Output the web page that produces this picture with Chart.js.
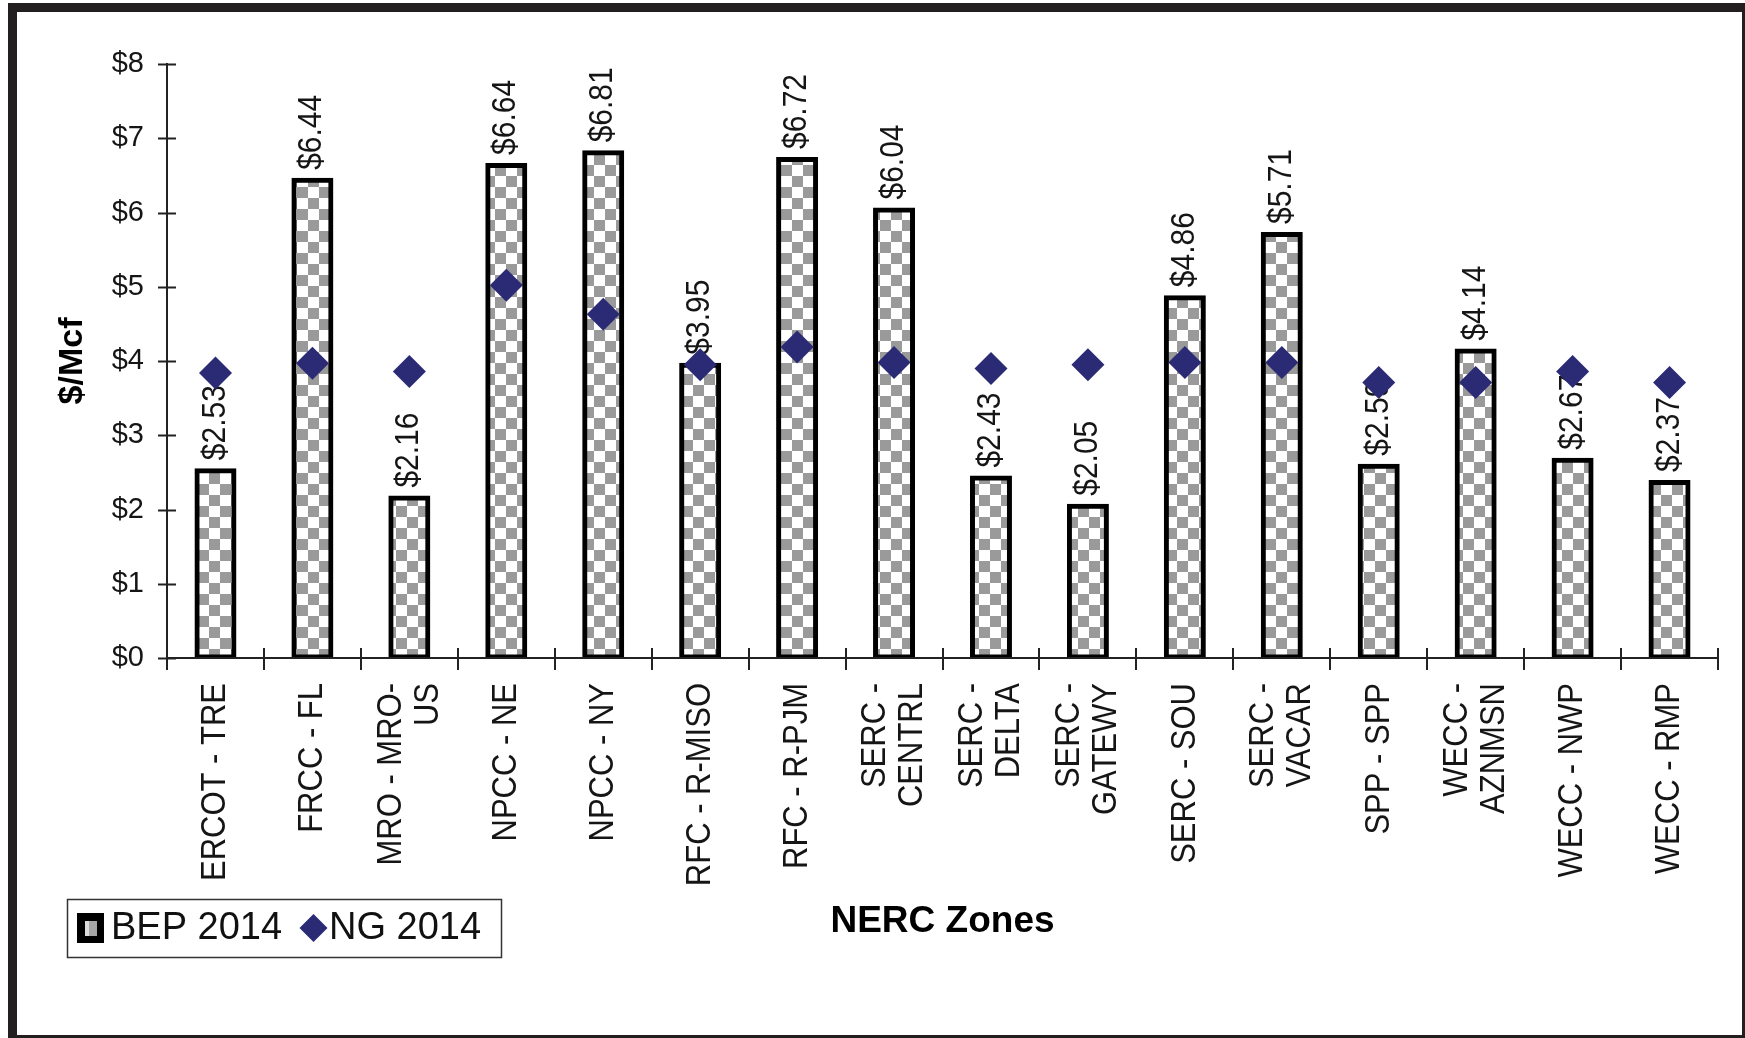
<!DOCTYPE html>
<html>
<head>
<meta charset="utf-8">
<title>BEP 2014 vs NG 2014 by NERC Zone</title>
<script src="https://cdn.jsdelivr.net/npm/chart.js@4.4.1/dist/chart.umd.min.js"></script>
<style>
  html, body { margin: 0; padding: 0; background: #fff; overflow: hidden; }
  #wrap { position: relative; width: 1745px; height: 1038px; }
  #chart { position: absolute; left: 0; top: 0; }
  #frame { position: absolute; left: 8px; top: 3px; width: 1743px; height: 1041px;
           box-sizing: border-box; border: 9px solid #231f20; pointer-events: none; }
</style>
</head>
<body>
<div id="wrap">
  <canvas id="chart" width="1745" height="1038"></canvas>
  <div id="frame"></div>
</div>
<script>
// NERC zones (multi-line where the label wraps)
const zones = [
  ['ERCOT - TRE'], ['FRCC - FL'], ['MRO - MRO-', 'US'], ['NPCC - NE'], ['NPCC - NY'],
  ['RFC - R-MISO'], ['RFC - R-PJM'], ['SERC -', 'CENTRL'], ['SERC -', 'DELTA'],
  ['SERC -', 'GATEWY'], ['SERC - SOU'], ['SERC -', 'VACAR'], ['SPP - SPP'],
  ['WECC -', 'AZNMSN'], ['WECC - NWP'], ['WECC - RMP']
];

// Break-even price, 2014 ($/Mcf)
const bep2014 = [2.53, 6.44, 2.16, 6.64, 6.81, 3.95, 6.72, 6.04, 2.43, 2.05, 4.86, 5.71, 2.59, 4.14, 2.67, 2.37];

// Natural gas price, 2014 ($/Mcf)
const ng2014 = [3.84, 3.97, 3.86, 5.02, 4.63, 3.95, 4.19, 3.98, 3.90, 3.95, 3.98, 3.98, 3.71, 3.71, 3.86, 3.71];

// Value axis tick labels
const yTickLabels = ['$0', '$1', '$2', '$3', '$4', '$5', '$6', '$7', '$8'];

const FONT = "'Liberation Sans', Arial, Helvetica, sans-serif";
const INK = '#151515';
const NAVY = '#2b2a74';

const canvas = document.getElementById('chart');
const ctx = canvas.getContext('2d');

// grey / white checkerboard fill for the bars
function makeChecker(c) {
  const cell = 11;
  const tile = document.createElement('canvas');
  tile.width = cell * 2; tile.height = cell * 2;
  const g = tile.getContext('2d');
  g.fillStyle = '#ffffff'; g.fillRect(0, 0, cell * 2, cell * 2);
  g.fillStyle = '#9a9a9a';
  g.fillRect(0, 0, cell, cell);
  g.fillRect(cell, cell, cell, cell);
  return c.createPattern(tile, 'repeat');
}
const checker = makeChecker(ctx);

// draws upright-reading (rotated) text, slightly widened across its glyph height
function drawVertical(c, txt, x, y, widen) {
  c.save();
  c.translate(x, y);
  c.scale(widen, 1);
  c.rotate(-Math.PI / 2);
  c.fillText(txt, 0, 0);
  c.restore();
}

// tick marks that cross both axis lines
const crossTicks = {
  id: 'crossTicks',
  beforeDatasetsDraw(chart) {
    const { ctx, scales: { x, y } } = chart;
    ctx.save();
    ctx.strokeStyle = '#222';
    ctx.lineWidth = 2;
    ctx.beginPath();
    y.ticks.forEach(t => {
      const py = Math.round(y.getPixelForValue(t.value)) + 0.5;
      ctx.moveTo(x.left - 9, py); ctx.lineTo(x.left + 9, py);
    });
    for (let i = 0; i <= zones.length; i++) {
      const px = Math.round(x.getPixelForValue(i - 0.5));
      ctx.moveTo(px, y.bottom - 10); ctx.lineTo(px, y.bottom + 12);
    }
    ctx.stroke();
    ctx.restore();
  }
};

// rotated value labels above each bar, drawn before the diamonds
const barValueLabels = {
  id: 'barValueLabels',
  afterDatasetDraw(chart, args) {
    if (chart.data.datasets[args.index].type !== 'bar') return;
    const { ctx, scales: { x, y } } = chart;
    const data = chart.data.datasets[args.index].data;
    ctx.save();
    ctx.fillStyle = INK;
    ctx.font = '30px ' + FONT;
    ctx.textAlign = 'left';
    ctx.textBaseline = 'middle';
    data.forEach((v, i) => {
      drawVertical(ctx, '$' + v.toFixed(2), x.getPixelForValue(i), y.getPixelForValue(v) - 10, 1.1);
    });
    ctx.restore();
  }
};

// vertical category labels under the axis
const zoneLabels = {
  id: 'zoneLabels',
  afterDraw(chart) {
    const { ctx, scales: { x, y } } = chart;
    const lineGap = 37;
    ctx.save();
    ctx.fillStyle = INK;
    ctx.font = '31px ' + FONT;
    ctx.textAlign = 'right';
    ctx.textBaseline = 'middle';
    zones.forEach((lines, i) => {
      const cx = x.getPixelForValue(i);
      lines.forEach((txt, j) => {
        drawVertical(ctx, txt, cx + (j - (lines.length - 1) / 2) * lineGap, y.bottom + 25, 1.15);
      });
    });
    ctx.restore();
  }
};

// boxed legend in the lower-left corner
const boxLegend = {
  id: 'boxLegend',
  afterDraw(chart) {
    const { ctx } = chart;
    const ds = chart.data.datasets;
    const bar = ds.find(d => d.type === 'bar');
    const pts = ds.find(d => d.type === 'line');
    const box = { x: 67, y: 899, w: 434, h: 58 };
    const midY = box.y + box.h / 2;
    ctx.save();
    ctx.fillStyle = '#fff';
    ctx.fillRect(box.x, box.y, box.w, box.h);
    ctx.strokeStyle = '#333';
    ctx.lineWidth = 1.5;
    ctx.strokeRect(box.x + 0.5, box.y + 0.5, box.w, box.h);

    // bar swatch
    ctx.fillStyle = '#000';
    ctx.fillRect(77, midY - 15, 27, 30);
    ctx.fillStyle = '#a6a6a6';
    ctx.fillRect(85, midY - 7, 12, 15);
    ctx.fillStyle = '#dcdcdc';
    ctx.fillRect(85, midY - 7, 4, 15);

    ctx.fillStyle = '#111';
    ctx.font = '38px ' + FONT;
    ctx.textAlign = 'left';
    ctx.textBaseline = 'middle';
    ctx.fillText(bar.label, 111, midY + 1);

    // diamond swatch
    const dx = 313.5, r = 14;
    ctx.fillStyle = NAVY;
    ctx.beginPath();
    ctx.moveTo(dx - r, midY); ctx.lineTo(dx, midY - r);
    ctx.lineTo(dx + r, midY); ctx.lineTo(dx, midY + r);
    ctx.closePath();
    ctx.fill();

    ctx.fillStyle = '#111';
    ctx.fillText(pts.label, 329, midY + 1);
    ctx.restore();
  }
};

new Chart(ctx, {
  type: 'bar',
  data: {
    labels: zones,
    datasets: [
      {
        type: 'bar',
        label: 'BEP 2014',
        data: bep2014,
        backgroundColor: checker,
        borderColor: '#000',
        borderWidth: 5,
        borderSkipped: false,
        inflateAmount: 2,
        barPercentage: 0.392,
        categoryPercentage: 1,
        order: 1
      },
      {
        type: 'line',
        label: 'NG 2014',
        data: ng2014,
        showLine: false,
        pointStyle: 'rectRot',
        pointRadius: 16.5,
        pointHoverRadius: 16.5,
        pointBackgroundColor: NAVY,
        pointBorderColor: NAVY,
        pointBorderWidth: 0,
        backgroundColor: NAVY,
        borderColor: NAVY,
        order: 0
      }
    ]
  },
  options: {
    responsive: false,
    animation: false,
    devicePixelRatio: 1,
    layout: { padding: { left: 17, right: 27, top: 64, bottom: 0 } },
    plugins: {
      legend: { display: false },
      tooltip: { enabled: false }
    },
    scales: {
      x: {
        type: 'category',
        offset: true,
        grid: { offset: true, drawOnChartArea: false, drawTicks: true, tickLength: 12, color: 'rgba(0,0,0,0)' },
        border: { display: true, color: '#222', width: 2, z: 1 },
        ticks: { display: false },
        title: {
          display: true,
          text: 'NERC Zones',
          color: '#000',
          font: { family: FONT, size: 37, weight: 'bold' },
          padding: { top: 0, bottom: 94 }
        },
        afterFit(scale) { scale.height = 380; }
      },
      y: {
        min: 0,
        max: 8,
        ticks: {
          stepSize: 1,
          color: INK,
          padding: 14,
          font: { family: FONT, size: 29 },
          callback: (v, i) => yTickLabels[i]
        },
        grid: { drawOnChartArea: false, drawTicks: true, tickLength: 9, color: 'rgba(0,0,0,0)' },
        border: { display: true, color: '#222', width: 2 },
        title: {
          display: true,
          text: '$/Mcf',
          color: '#000',
          font: { family: FONT, size: 34, weight: 'bold' },
          padding: { top: 35, bottom: 0 }
        },
        afterFit(scale) { scale.width = 150; }
      }
    }
  },
  plugins: [crossTicks, barValueLabels, zoneLabels, boxLegend]
});
</script>
</body>
</html>
